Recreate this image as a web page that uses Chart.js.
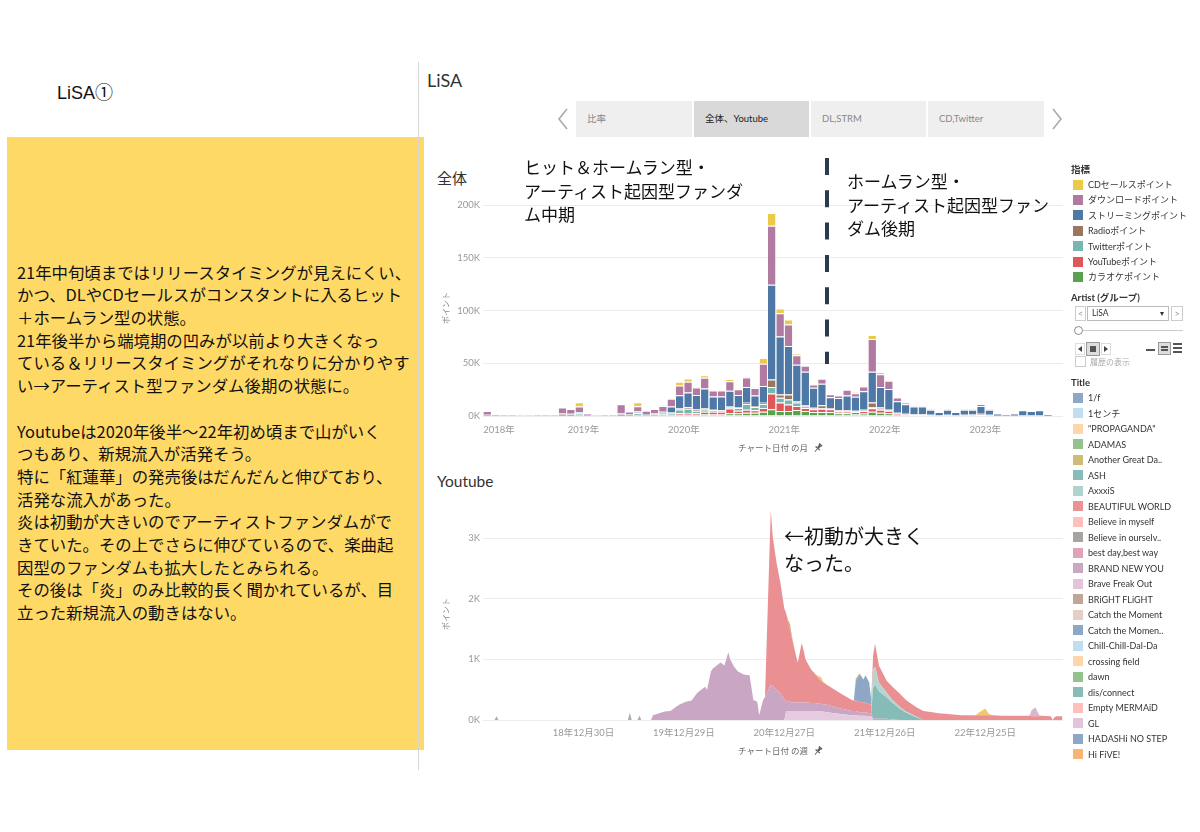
<!DOCTYPE html>
<html><head><meta charset="utf-8">
<script src="https://cdn.jsdelivr.net/npm/chart.js@4.4.1/dist/chart.umd.min.js"></script>
<style>
html,body{margin:0;padding:0;background:#fff;}
body{width:1200px;height:832px;position:relative;overflow:hidden;font-family:Lato,"Noto Sans CJK JP",sans-serif;color:#333;}
.abs{position:absolute;white-space:nowrap;}
.jp{font-family:"Noto Sans CJK JP",sans-serif;}
.tab{position:absolute;top:101px;height:36px;line-height:36px;font-size:9.5px;color:#888;background:#efefef;padding-left:11px;box-sizing:border-box;}
.lg{position:absolute;left:1071px;font-size:9px;line-height:12px;height:12px;color:#333;white-space:nowrap;}
.lg i{display:inline-block;width:10px;height:10px;vertical-align:-1.5px;margin-right:5px;margin-left:2px;}
.hd{position:absolute;left:1071px;font-size:9.5px;font-weight:700;line-height:12px;color:#333;white-space:nowrap;}
</style></head><body>

<!-- left slide -->
<div class="abs" style="left:57px;top:81px;font-family:'Liberation Sans','Noto Sans CJK JP',sans-serif;font-size:18px;line-height:24px;color:#111;">LiSA①</div>
<div class="abs" style="left:7px;top:137px;width:417px;height:613px;background:#ffd966;">
  <div class="jp" style="position:absolute;left:10px;top:123.6px;font-size:16.4px;line-height:22.7px;color:#111;font-weight:400;white-space:nowrap;">
    <div>21年中旬頃まではリリースタイミングが見えにくい、</div>
    <div>かつ、DLやCDセールスがコンスタントに入るヒット</div>
    <div>＋ホームラン型の状態。</div>
    <div>21年後半から端境期の凹みが以前より大きくなっ</div>
    <div>ている＆リリースタイミングがそれなりに分かりやす</div>
    <div>い→アーティスト型ファンダム後期の状態に。</div>
    <div>&nbsp;</div>
    <div>Youtubeは2020年後半〜22年初め頃まで山がいく</div>
    <div>つもあり、新規流入が活発そう。</div>
    <div>特に「紅蓮華」の発売後はだんだんと伸びており、</div>
    <div>活発な流入があった。</div>
    <div>炎は初動が大きいのでアーティストファンダムがで</div>
    <div>きていた。その上でさらに伸びているので、楽曲起</div>
    <div>因型のファンダムも拡大したとみられる。</div>
    <div>その後は「炎」のみ比較的長く聞かれているが、目</div>
    <div>立った新規流入の動きはない。</div>
  </div>
</div>
<div class="abs" style="left:418px;top:62px;width:1px;height:708px;background:#d6d6d6;"></div>

<!-- dashboard header -->
<div class="abs" style="left:427px;top:69px;font-size:18px;line-height:22px;color:#333;">LiSA</div>
<svg class="abs" style="left:550px;top:100px" width="24" height="40"><polyline points="17,9 9,19 17,29" fill="none" stroke="#aaa" stroke-width="1.6"/></svg>
<div class="tab" style="left:576px;width:116px;">比率</div>
<div class="tab" style="left:694px;width:115px;background:#d9d9d9;color:#222;">全体、Youtube</div>
<div class="tab" style="left:811px;width:115px;">DL,STRM</div>
<div class="tab" style="left:928px;width:116px;">CD,Twitter</div>
<svg class="abs" style="left:1046px;top:100px" width="24" height="40"><polyline points="7,9 15,19 7,29" fill="none" stroke="#aaa" stroke-width="1.6"/></svg>

<div class="abs" style="left:437px;top:169px;font-size:15px;line-height:18px;color:#333;">全体</div>
<div class="abs" style="left:437px;top:472px;font-size:15.5px;line-height:18px;color:#333;">Youtube</div>

<div class="abs" style="left:430px;top:200px;width:633px;height:254px;"><canvas id="topChart"></canvas></div>
<div class="abs" style="left:430px;top:508px;width:633px;height:250px;"><canvas id="ytChart"></canvas></div>

<!-- pins next to axis titles -->
<svg class="abs" style="left:813px;top:443px" width="10" height="10" viewBox="0 0 10 10"><g transform="rotate(40 5 5)" fill="#555"><rect x="3" y="0.3" width="4" height="1.5"/><rect x="3.8" y="1.8" width="2.4" height="3"/><rect x="2.2" y="4.8" width="5.6" height="1.2"/><rect x="4.6" y="6" width="0.8" height="3.8"/></g></svg>
<svg class="abs" style="left:813px;top:746px" width="10" height="10" viewBox="0 0 10 10"><g transform="rotate(40 5 5)" fill="#555"><rect x="3" y="0.3" width="4" height="1.5"/><rect x="3.8" y="1.8" width="2.4" height="3"/><rect x="2.2" y="4.8" width="5.6" height="1.2"/><rect x="4.6" y="6" width="0.8" height="3.8"/></g></svg>

<!-- annotations -->
<div class="abs jp" style="left:524px;top:155.3px;font-size:17px;line-height:23.5px;color:#111;font-weight:400;">ヒット＆ホームラン型・<br>アーティスト起因型ファンダ<br>ム中期</div>
<div class="abs jp" style="left:847px;top:169.3px;font-size:17px;line-height:23.5px;color:#111;font-weight:400;">ホームラン型・<br>アーティスト起因型ファン<br>ダム後期</div>
<svg class="abs" style="left:819px;top:150px" width="16" height="222"><line x1="8" y1="8" x2="8" y2="214" stroke="#2b3a4d" stroke-width="4" stroke-dasharray="17 15.3"/></svg>
<div class="abs jp" style="left:784px;top:521.5px;font-size:20px;line-height:27px;color:#111;">←初動が大きく<br>なった。</div>

<!-- right panel -->
<div class="hd" style="top:164px;">指標</div>
<div id="metricLegend"></div>
<div class="hd" style="top:292px;">Artist (グループ)</div>
<div class="abs" style="left:1075px;top:306px;width:9px;height:13px;border:1px solid #ccc;font-size:9px;line-height:13px;text-align:center;color:#999;">&lt;</div>
<div class="abs" style="left:1087px;top:306px;width:80px;height:13px;border:1px solid #bbb;font-size:8.5px;line-height:13px;color:#333;"><span style="margin-left:4px;">LiSA</span><span style="position:absolute;right:4px;top:0;font-size:8px;">▾</span></div>
<div class="abs" style="left:1171px;top:306px;width:10px;height:13px;border:1px solid #ccc;font-size:9px;line-height:13px;text-align:center;color:#999;">&gt;</div>
<div class="abs" style="left:1083px;top:330px;width:100px;height:1px;background:#ccc;"></div>
<div class="abs" style="left:1074px;top:326px;width:7px;height:7px;border:1px solid #888;border-radius:50%;background:#fff;"></div>
<div class="abs" style="left:1075px;top:343px;width:8px;height:10px;border:1px solid #ddd;"><svg width="8" height="10" style="position:absolute;left:0;top:0"><polygon points="6,2 2,5 6,8" fill="#444"/></svg></div>
<div class="abs" style="left:1086px;top:342px;width:12px;height:12px;border:1px solid #999;background:#ddd;"><div style="position:absolute;left:3px;top:3px;width:6px;height:6px;background:#555;"></div></div>
<div class="abs" style="left:1101px;top:343px;width:8px;height:10px;border:1px solid #ddd;"><svg width="8" height="10" style="position:absolute;left:0;top:0"><polygon points="2,2 6,5 2,8" fill="#444"/></svg></div>
<div class="abs" style="left:1146px;top:349px;width:9px;height:2px;background:#555;"></div>
<div class="abs" style="left:1158px;top:342px;width:11px;height:11px;border:1px solid #999;background:#ddd;"><div style="position:absolute;left:2px;top:3px;width:7px;height:2px;background:#555;"></div><div style="position:absolute;left:2px;top:6px;width:7px;height:2px;background:#555;"></div></div>
<div class="abs" style="left:1173px;top:343px;width:9px;height:2px;background:#555;"></div>
<div class="abs" style="left:1173px;top:347px;width:9px;height:2px;background:#555;"></div>
<div class="abs" style="left:1173px;top:351px;width:9px;height:2px;background:#555;"></div>
<div class="abs" style="left:1075px;top:356px;width:9px;height:9px;border:1px solid #ccc;"></div>
<div class="abs" style="left:1090px;top:356px;font-size:8px;line-height:12px;color:#aaa;">履歴の表示</div>
<div class="hd" style="top:377px;">Title</div>
<div id="titleLegend"></div>

<script>
// ---------- top chart data (points, in thousands) ----------
const months = ['2018-01','2018-02','2018-03','2018-04','2018-05','2018-06','2018-07','2018-08','2018-09','2018-10','2018-11','2018-12',
  '2019-01','2019-02','2019-03','2019-04','2019-05','2019-06','2019-07','2019-08','2019-09','2019-10','2019-11','2019-12',
  '2020-01','2020-02','2020-03','2020-04','2020-05','2020-06','2020-07','2020-08','2020-09','2020-10','2020-11','2020-12',
  '2021-01','2021-02','2021-03','2021-04','2021-05','2021-06','2021-07','2021-08','2021-09','2021-10','2021-11','2021-12',
  '2022-01','2022-02','2022-03','2022-04','2022-05','2022-06','2022-07','2022-08','2022-09','2022-10','2022-11','2022-12',
  '2023-01','2023-02','2023-03','2023-04','2023-05','2023-06','2023-07','2023-08'];
const yearTicks = ['2018年','2019年','2020年','2021年','2022年','2023年'];

const cdPts = [0,0,0,0,0,0,0,0,0,0.3,
  0.2,4.0,0.1,0,0,0,0.3,0.1,3.7,0.2,
  0.2,0.3,0.3,3.4,3.1,0.8,2.2,0.5,0.5,2.0,
  0.5,0.8,0.5,5.5,12.0,4.7,4.7,1.5,0.5,0.3,
  0.3,0.2,0.2,0.2,1.0,0.3,3.8,2.2,0.5,0.2,
  0.2,0,0,0,0,0,0,0,0,0.3,
  0,0,0,0,0,0,0,0];
const dlPts = [3.5,1.0,0.1,0.1,0.4,0.4,0.3,0.1,0.3,5.5,
  4.5,5.2,1.8,0.3,0.1,0.1,8.8,2.8,5.0,3.0,
  4.0,5.5,7.5,9.3,10.2,7.0,10.2,5.7,5.7,9.0,
  5.5,9.0,7.0,21.0,56.0,22.0,20.5,9.0,5.7,3.0,
  4.7,3.0,2.5,5.5,3.2,4.7,31.0,12.0,7.9,3.5,
  1.2,0.6,0.6,0.4,0.3,0.4,0.3,0.4,0.4,1.5,
  0.4,0.2,0.1,0.2,0.3,0.3,0.3,0.1];
const strmPts = [0.3,0.2,0,0.1,0.2,0.2,0.2,0,0.1,0.7,
  0.6,0.8,0.4,0,0,0.1,0.8,0.5,1.0,0.7,
  1.0,1.8,5.5,12.3,13.9,13.9,18.5,12.5,12.8,15.0,
  12.0,15.0,10.0,16.0,90.0,55.0,46.0,34.5,32.0,19.0,
  20.5,10.0,11.5,14.0,13.3,16.8,29.4,19.6,19.0,11.0,
  9.0,7.3,7.3,4.8,3.0,4.8,3.0,4.8,4.5,7.5,
  4.8,1.8,1.1,1.8,4.4,3.8,4.4,0.6];
const radioPts = [0.2,0.1,0,0,0.2,0.2,0.1,0,0,0.5,
  0.4,0.6,0.3,0,0,0,0.5,0.3,0.6,0.3,
  0.4,0.5,0.6,1.2,1.5,1.0,1.5,0.5,0.5,0.5,
  0.5,1.0,1.0,1.0,7.0,3.0,4.7,1.5,1.0,0.8,
  2.5,0.8,0.6,0.7,0.6,1.0,4.4,1.2,1.0,0.5,
  0.4,0.3,0.3,0.3,0.2,0.3,0.2,0.3,0.6,0.8,
  0.3,0.2,0.1,0.2,0.3,0.3,0.3,0.1];
const twitterPts = [0.5,0.2,0.1,0.1,0.2,0.2,0.2,0.1,0.2,1.0,
  0.9,1.8,0.3,0.2,0.1,0.1,0.7,0.5,2.0,0.6,
  0.7,1.0,1.5,3.7,4.0,2.5,2.2,1.5,1.2,1.5,
  2.5,5.5,3.0,4.0,6.3,4.7,4.7,3.2,1.2,0.8,
  0.8,0.6,0.6,0.7,0.6,0.8,1.0,0.8,0.6,0.4,
  0.3,0.3,0.3,0.2,0.1,0.2,0.1,0.2,0.2,0.3,
  0.2,0.1,0.1,0.1,0.2,0.2,0.2,0.1];
const youtubePts = [0.1,0,0,0,0,0,0,0,0,0.2,
  0.1,0.3,0.1,0,0,0,0.2,0.1,0.4,0.2,
  0.3,0.5,0.8,1.3,1.5,1.4,2.2,2.5,2.5,4.5,
  2.5,3.0,2.5,3.5,15.0,8.0,6.3,3.8,3.0,2.5,
  3.0,2.5,1.8,1.5,1.8,2.4,3.2,3.0,2.5,0.8,
  0.5,0.3,0.3,0.2,0.1,0.2,0.1,0.2,0.2,0.4,
  0.2,0.1,0.1,0.1,0.2,0.2,0.2,0.05];
const karaokePts = [0.1,0,0,0,0,0,0,0,0,0.1,
  0.1,0.3,0,0,0,0,0.1,0,0.3,0.2,
  0.2,0.3,0.5,1.2,1.3,1.2,1.8,1.5,1.5,2.5,
  2.5,3.0,3.0,4.0,6.3,4.7,4.7,5.7,4.7,3.8,
  3.8,3.8,2.5,2.5,2.0,2.4,4.1,3.0,2.5,1.3,
  1.0,0.7,0.7,0.4,0.3,0.4,0.3,0.4,0.4,0.6,
  0.4,0.1,0.1,0.1,0.3,0.2,0.3,0.05];

// ---------- Youtube chart data (weeks since 2017-12-31, points in thousands) ----------
const weekNo = [0,6,7,8,75,76,77,80,81,82,
  87,88,92,94,97,100,102,105,108,111,
  113,115,116,118,119,121,123,125,127,128,
  130,132,135,138,140,142,143,145,146,149,
  150,152,154,156,157,158,159,160,162,163,
  165,166,167,170,172,174,175,176,178,185,
  191,192,193,195,197,198,200,201,202,203,
  205,209,212,216,219,224,228,230,236,248,
  255,257,260,262,264,269,283,284,286,288,
  289,294,295,296,297,300];
const weekTicks = ['18年12月30日','19年12月29日','20年12月27日','21年12月26日','22年12月25日'];

const otherPts = [0,0,0.06,0,0,0.12,0,0,0.07,0,
  0,0,0,0,0,0,0,0,0,0,
  0,0,0,0,0,0,0,0,0,0,
  0,0,0,0,0,0,0,0,0,0,
  0,0,0,0,0,0,0,0,0,0,
  0,0,0,0,0,0,0,0,0,0,
  0,0,0,0,0,0,0,0,0,0,
  0,0,0,0,0,0,0,0,0,0,
  0,0,0,0,0,0,0,0,0,0,
  0,0,0,0,0,0];
const glPts = [0,0,0,0,0,0,0,0,0,0,
  0,0,0,0,0,0,0,0,0,0,
  0,0,0,0,0,0,0,0,0,0,
  0,0,0,0,0,0,0,0,0,0,
  0,0,0,0,0.15,0.15,0.15,0.15,0.15,0.15,
  0.15,0.15,0.15,0.15,0.15,0.14,0.14,0.14,0.13,0.10,
  0.08,0.08,0.08,0.07,0.07,0.07,0.06,0.06,0,0,
  0,0,0,0,0,0,0,0,0,0,
  0,0,0,0,0,0,0,0,0,0,
  0,0,0,0,0,0];
const gurengePts = [0,0,0,0,0,0,0,0,0,0,
  0,0.08,0.12,0.14,0.15,0.22,0.26,0.30,0.32,0.45,
  0.50,0.55,0.50,0.80,0.85,0.90,0.95,0.90,1.12,1.00,
  0.88,0.80,0.75,0.74,0.33,0.30,0.08,0.33,0.38,0.58,
  0.56,0.50,0.44,0.34,0.15,0.15,0.15,0.14,0.14,0.14,
  0.14,0.14,0.14,0.13,0.13,0.13,0.13,0.12,0.12,0.09,
  0.07,0.07,0.07,0.06,0.06,0.06,0.05,0.05,0.03,0.03,
  0.02,0.02,0.01,0,0,0,0,0,0,0,
  0,0,0,0,0,0,0,0,0,0,
  0,0,0,0,0,0];
const hakuginPts = [0,0,0,0,0,0,0,0,0,0,
  0,0,0,0,0,0,0,0,0,0,
  0,0,0,0,0,0,0,0,0,0,
  0,0,0,0,0,0,0,0,0,0,
  0,0,0,0,0,0,0,0,0,0,
  0,0,0,0,0,0,0,0,0,0,
  0,0,0,0,0,0,0,0,0.50,0.55,
  0.45,0.35,0.27,0.18,0.12,0.05,0,0,0,0,
  0,0,0,0,0,0,0,0,0,0,
  0,0,0,0,0,0];
const akeboshiPts = [0,0,0,0,0,0,0,0,0,0,
  0,0,0,0,0,0,0,0,0,0,
  0,0,0,0,0,0,0,0,0,0,
  0,0,0,0,0,0,0,0,0,0,
  0,0,0,0,0,0,0,0,0,0,
  0,0,0,0,0,0,0,0,0,0,
  0,0,0,0,0,0,0,0,0.30,0.30,
  0.15,0.08,0.05,0.03,0.02,0.01,0,0,0,0,
  0,0,0,0,0,0,0,0,0,0,
  0,0,0,0,0,0];
const homuraPts = [0,0,0,0,0,0,0,0,0,0,
  0,0,0,0,0,0,0,0,0,0,
  0,0,0,0,0,0,0,0,0,0,
  0,0,0,0,0,0,0,0,0,2.89,
  2.47,2.09,1.82,1.50,1.46,1.30,1.20,1.05,0.78,0.66,
  0.98,0.86,0.71,0.55,0.48,0.41,0.38,0.36,0.33,0.25,
  0.18,0.17,0.17,0.17,0.16,0.16,0.15,0.15,0.25,0.38,
  0.28,0.20,0.22,0.22,0.19,0.16,0.15,0.14,0.11,0.08,
  0.08,0.08,0.08,0.08,0.08,0.07,0.07,0.06,0.06,0.06,
  0.07,0.06,0,0.05,0.06,0.06];
const catchPts = [0,0,0,0,0,0,0,0,0,0,
  0,0,0,0,0,0,0,0,0,0,
  0,0,0,0,0,0,0,0,0,0,
  0,0,0,0,0,0,0,0,0,0,
  0,0,0,0,0,0,0,0,0,0,
  0,0,0,0,0,0,0,0,0,0,
  0,0,0.32,0.45,0.38,0.45,0.36,0.08,0,0,
  0,0,0,0,0,0,0,0,0,0,
  0,0,0,0,0,0,0,0,0,0,
  0,0,0,0,0,0];
const anotherPts = [0,0,0,0,0,0,0,0,0,0,
  0,0,0,0,0,0,0,0,0,0,
  0,0,0,0,0,0,0,0,0,0,
  0,0,0,0,0,0,0,0,0,0,
  0,0,0,0,0,0.05,0.08,0.04,0,0,
  0,0,0,0,0,0,0,0,0,0,
  0,0,0.04,0.02,0,0,0,0,0,0,
  0,0,0,0,0,0,0,0,0,0,
  0,0,0,0,0,0,0,0,0,0,
  0,0,0,0,0,0];
const yellowPts = [0,0,0,0,0,0,0,0,0,0,
  0,0,0,0,0,0,0,0,0,0,
  0,0,0,0,0,0,0,0,0,0,
  0,0,0,0,0,0,0,0,0,0,
  0,0,0,0,0,0,0,0,0,0,
  0,0,0,0,0,0.04,0.06,0.02,0,0,
  0,0,0,0,0,0,0,0,0,0,
  0,0,0,0,0,0,0,0,0,0,
  0,0.05,0.11,0.02,0,0,0,0,0,0,
  0,0,0,0,0,0];
const bravePts = [0,0,0,0,0,0,0,0,0,0,
  0,0,0,0,0,0,0,0,0,0,
  0,0,0,0,0,0,0,0,0,0,
  0,0,0,0,0,0,0,0,0,0,
  0,0,0,0,0,0,0,0,0,0,
  0,0,0,0,0,0,0,0,0,0,
  0,0,0,0,0,0,0,0,0,0,
  0,0,0,0,0,0,0,0,0,0,
  0,0,0,0,0,0,0,0.10,0.15,0.02,
  0,0,0,0,0,0];

// ---------- legends ----------
const metricNames = ['CDセールスポイント','ダウンロードポイント','ストリーミングポイント','Radioポイント','Twitterポイント','YouTubeポイント','カラオケポイント'];
const titleNames = ['1/f','1センチ','"PROPAGANDA"','ADAMAS','Another Great Da..','ASH','AxxxiS','BEAUTIFUL WORLD','Believe in myself','Believe in ourselv..','best day,best way','BRAND NEW YOU','Brave Freak Out','BRiGHT FLiGHT','Catch the Moment','Catch the Momen..','Chill-Chill-Dal-Da','crossing field','dawn','dis/connect','Empty MERMAiD','GL','HADASHi NO STEP','Hi FiVE!'];

// styles
const metricColors = ['#edc948','#b07aa1','#4e79a7','#9c755f','#76b7b2','#e15759','#59a14f'];
const titleColors = ['#8ca8c6','#c1ddf0','#ffd5aa','#93c28c','#cfbc76','#88bcb9','#b0d3cf','#eb9293','#ffbfbd','#a8a2a1','#e2a3ba','#cba8c2','#e3c5db','#bfa697','#e5cfc5','#8ca8c6','#c1ddf0','#ffd5aa','#93c28c','#88bcb9','#ffbfbd','#e3c5db','#8ca8c6','#f6b575'];

(function buildLegends(){
  const ml = document.getElementById('metricLegend');
  metricNames.forEach((n,i)=>{
    const d = document.createElement('div'); d.className='lg';
    d.style.top = (179 + i*15.4) + 'px';
    d.innerHTML = '<i style="background:'+metricColors[i]+'"></i>'+n;
    ml.appendChild(d);
  });
  const tl = document.getElementById('titleLegend');
  titleNames.forEach((n,i)=>{
    const d = document.createElement('div'); d.className='lg';
    d.style.top = (392 + i*15.52) + 'px';
    d.innerHTML = '<i style="background:'+titleColors[i]+'"></i>'+n.replace(/</g,'&lt;');
    tl.appendChild(d);
  });
})();

Chart.defaults.font.family = 'Lato, "Noto Sans CJK JP", sans-serif';
Chart.defaults.animation = false;

// ---------- top stacked bar chart ----------
const topSeries = [
  {label:'カラオケポイント', values:karaokePts, color:metricColors[6]},
  {label:'YouTubeポイント', values:youtubePts, color:metricColors[5]},
  {label:'Twitterポイント', values:twitterPts, color:metricColors[4]},
  {label:'Radioポイント', values:radioPts, color:metricColors[3]},
  {label:'ストリーミングポイント', values:strmPts, color:metricColors[2]},
  {label:'ダウンロードポイント', values:dlPts, color:metricColors[1]},
  {label:'CDセールスポイント', values:cdPts, color:metricColors[0]}
];
new Chart(document.getElementById('topChart'), {
  type:'bar',
  data:{datasets: topSeries.map(s=>({
    label:s.label,
    data: months.map((m,i)=>({x:i+0.5, y:s.values[i]})),
    backgroundColor:s.color,
    borderColor:'rgba(255,255,255,0.8)',
    borderWidth:{top:1,left:0,right:0,bottom:0},
    borderSkipped:'start',
    categoryPercentage:1, barPercentage:0.9
  }))},
  options:{
    responsive:true, maintainAspectRatio:false, animation:false,
    layout:{padding:0},
    plugins:{legend:{display:false}, tooltip:{enabled:false}},
    scales:{
      x:{type:'linear', stacked:true, offset:false, min:0, max:69.3,
        grid:{display:false, offset:false, drawTicks:false}, border:{display:false},
        afterBuildTicks:(s)=>{ s.ticks = yearTicks.map((t,i)=>({value: i===0 ? 1.9 : i*12})); },
        ticks:{autoSkip:false, maxRotation:0, padding:8, color:'#999', font:{size:9.5}, callback:(v,i)=>yearTicks[i]},
        title:{display:true, text:'チャート日付 の月', color:'#666', font:{size:8.5}, padding:{top:0,bottom:1}},
        afterFit:(s)=>{ s.height = 38; s.paddingLeft = 0; s.paddingRight = 0; }
      },
      y:{stacked:true, min:0, max:205,
        grid:{color:'#ececec', drawTicks:false}, border:{display:false},
        ticks:{stepSize:50, includeBounds:false, padding:3, color:'#999', font:{size:9.5}, callback:(v)=>v+'K'},
        title:{display:true, text:'ポイント', color:'#888', font:{size:8}, padding:{top:12,bottom:0}},
        afterFit:(s)=>{ s.width = 53; s.paddingTop = 0; s.paddingBottom = 0; }
      }
    }
  }
});

// ---------- Youtube stacked area chart ----------
const ytSeries = [
  {label:'others', values:otherPts, color:'#b3a7b6'},
  {label:'GL', values:glPts, color:'#e4cbe0'},
  {label:'紅蓮華', values:gurengePts, color:'#c9a6c4'},
  {label:'白銀', values:hakuginPts, color:'#86bcb7'},
  {label:'明け星', values:akeboshiPts, color:'#b3d6d2'},
  {label:'炎', values:homuraPts, color:'#eb9092'},
  {label:'Catch the Moment', values:catchPts, color:'#8fa7c6'},
  {label:'Another Great Day!!', values:anotherPts, color:'#c9b46e'},
  {label:'crossing field', values:yellowPts, color:'#f0c96a'},
  {label:'Brave Freak Out', values:bravePts, color:'#d9b6d2'}
];
new Chart(document.getElementById('ytChart'), {
  type:'line',
  data:{datasets: ytSeries.map((s,k)=>({
    label:s.label,
    data: weekNo.map((w,i)=>({x:w, y:s.values[i]})),
    backgroundColor:s.color,
    borderColor:'rgba(0,0,0,0)',
    borderWidth:0,
    pointRadius:0, tension:0,
    fill: k===0 ? 'origin' : '-1'
  }))},
  options:{
    responsive:true, maintainAspectRatio:false, animation:false,
    layout:{padding:0},
    plugins:{legend:{display:false}, tooltip:{enabled:false}},
    scales:{
      x:{type:'linear', min:0, max:300.3, offset:false,
        grid:{display:false, drawTicks:false}, border:{display:false},
        afterBuildTicks:(s)=>{ s.ticks = weekTicks.map((t,i)=>({value:(i+1)*52})); },
        ticks:{autoSkip:false, maxRotation:0, padding:7, color:'#999', font:{size:9.5}, callback:(v,i)=>weekTicks[i]},
        title:{display:true, text:'チャート日付 の週', color:'#666', font:{size:8.5}, padding:{top:0,bottom:2}},
        afterFit:(s)=>{ s.height = 38; s.paddingLeft = 0; s.paddingRight = 0; }
      },
      y:{stacked:true, min:0, max:3.5,
        grid:{color:'#ececec', drawTicks:false}, border:{display:false},
        ticks:{stepSize:1, includeBounds:false, padding:3, color:'#999', font:{size:9.5}, callback:(v)=>v+'K'},
        title:{display:true, text:'ポイント', color:'#888', font:{size:8}, padding:{top:12,bottom:0}},
        afterFit:(s)=>{ s.width = 53; s.paddingTop = 0; s.paddingBottom = 0; }
      }
    }
  }
});
</script>
</body></html>
